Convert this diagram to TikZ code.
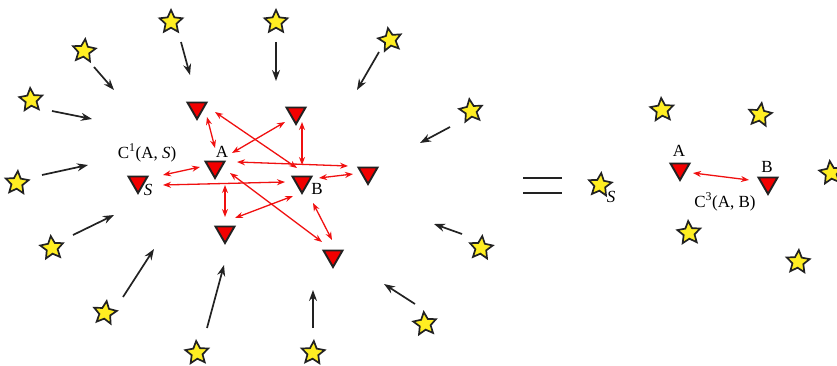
\documentclass[tikz,border=0pt]{standalone}
\usepackage{fontspec}
\setmainfont{Liberation Serif}
\usepackage{tikz}
\usetikzlibrary{arrows.meta,shapes.geometric}
\definecolor{starfill}{HTML}{FFEE22}
\definecolor{chargefill}{HTML}{F20000}
\definecolor{outline}{HTML}{222222}
\definecolor{pairline}{HTML}{F01010}

\begin{document}
\begin{tikzpicture}[x=1pt, y=-1pt,
    starnode/.style={star, star points=5, star point ratio=2.1, draw=outline,
      fill=starfill, line width=1.7pt, minimum size=24pt, inner sep=0pt},
    chargenode/.style={regular polygon, regular polygon sides=3,
      shape border rotate=180, draw=outline, fill=chargefill,
      line width=1.9pt, minimum size=22pt, inner sep=0pt},
    inflow/.style={-{Stealth[length=11pt, width=8pt]}, line width=1.7pt, outline},
    pairarrow/.style={{Stealth[length=8pt, width=6pt]}-{Stealth[length=8pt, width=6pt]},
      line width=1.3pt, pairline},
    lbl/.style={font=\fontsize{17}{17}\selectfont, inner sep=0pt},
  ]
  \useasboundingbox (0,0) rectangle (837,366);

  % Left side: the surrounding sources
  \foreach \n/\x/\y/\r in {1/171/22/0, 2/276/22/0, 3/390/40/10, 4/84/51/-6,
      5/31/100/4, 6/471/111/8, 7/17/183/-4, 8/52/248/6, 9/105/313/-8,
      10/197/353/4, 11/313/353/-4, 12/425/324/6, 13/481/248/-6}
    \node[starnode, shape border rotate=\r] (src\n) at (\x,\y) {};

  % flux towards the middle
  \foreach \n/\ax/\ay/\bx/\by in {1/94/67/114/90, 2/181/42/190/75,
      3/276/42/276/81, 4/379/52/357/90, 5/52/111/92/119, 6/450/127/420/143,
      7/42/175/88/165, 8/73/235/114/215, 9/123/297/154/249,
      10/207/328/224/265, 11/313/328/313/290, 12/415/304/384/284,
      13/462/234/434/224}
    {
      \coordinate (fl\n a) at (\ax,\ay);
      \coordinate (fl\n b) at (\bx,\by);
      \draw[inflow] (fl\n a) -- (fl\n b);
    }

  % Left side: the charges
  \node[chargenode] (q1) at (197,108) {};
  \node[chargenode] (q2) at (296,113) {};
  \node[chargenode] (qA) at (215,167) {};
  \node[chargenode] (qS) at (138,182) {};
  \node[chargenode] (qB) at (302,182) {};
  \node[chargenode] (q3) at (368,173) {};
  \node[chargenode] (q4) at (225,232) {};
  \node[chargenode] (q5) at (333,256) {};

  \node[lbl] (labA) at (222,152) {A};
  \node[lbl] (labB) at (317,189) {B};
  \node[lbl] (labS) at (148,190) {\textit{S}};
  \node[lbl] (labC1) at (147,153) {C\textsuperscript{1}(A, \textit{S})};

  % pair interactions
  \foreach \n/\ax/\ay/\bx/\by in {1/207/117/215/148, 2/302/122/302/165,
      3/215/112/297/168, 4/285/122/232/153, 5/237/162/348/166,
      6/163/175/200/167, 7/163/185/285/182, 8/319/178/353/174,
      9/225/185/225/217, 10/235/218/293/196, 11/230/173/322/242,
      12/313/203/332/240}
    {
      \coordinate (pr\n a) at (\ax,\ay);
      \coordinate (pr\n b) at (\bx,\by);
      \draw[pairarrow] (pr\n a) -- (pr\n b);
    }

  % equals sign
  \coordinate (eqa) at (523,178);
  \coordinate (eqb) at (562,178);
  \coordinate (eqc) at (523,193);
  \coordinate (eqd) at (562,193);
  \draw[line width=1.8pt, outline] (eqa) -- (eqb) (eqc) -- (eqd);

  % Right side: the reduced picture
  \foreach \n/\x/\y/\r in {S/600/185/-6, 1/662/110/4, 2/760/115/-8,
      3/689/233/4, 4/798/262/-4, 5/831/173/6}
    \node[starnode, shape border rotate=\r] (rsrc\n) at (\x,\y) {};
  \node[lbl] (rlabS) at (611,197) {\textit{S}};

  \node[chargenode] (rqA) at (680,169) {};
  \node[chargenode] (rqB) at (768,183) {};
  \node[lbl] (rlabA) at (679,151) {A};
  \node[lbl] (rlabB) at (767,167) {B};
  \coordinate (rpa) at (693,173);
  \coordinate (rpb) at (749,180);
  \draw[pairarrow] (rpa) -- (rpb);
  \node[lbl] (labC3) at (725,202) {C\textsuperscript{3}(A, B)};
\end{tikzpicture}
\end{document}
